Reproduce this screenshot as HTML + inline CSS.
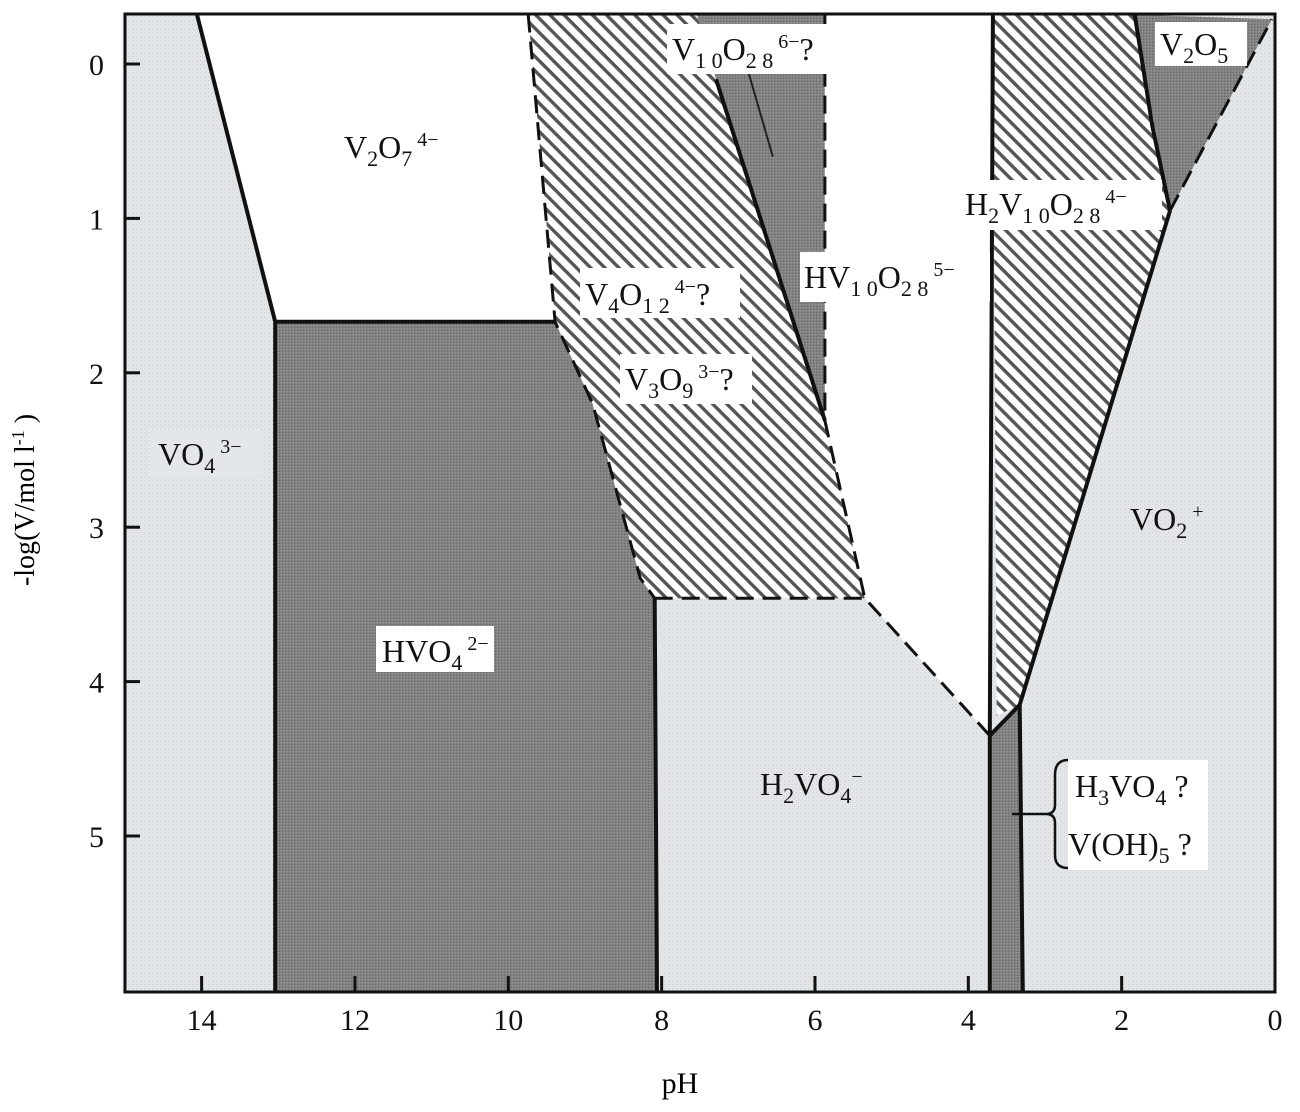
<!DOCTYPE html>
<html><head><meta charset="utf-8"><style>
html,body{margin:0;padding:0;background:#fff;}
svg{display:block;font-family:"Liberation Serif",serif;}
</style></head><body>
<svg id="chart" width="1300" height="1112" viewBox="0 0 1300 1112" xmlns="http://www.w3.org/2000/svg">
<defs>
<pattern id="hatch" patternUnits="userSpaceOnUse" width="10" height="10" patternTransform="rotate(45)">
<rect width="10" height="10" fill="#fff"/>
<rect x="0" y="0" width="10" height="3.4" fill="#555"/>
</pattern>
<pattern id="dots" patternUnits="userSpaceOnUse" width="4" height="4">
<rect width="4" height="4" fill="#e3e7ea"/>
<rect x="0" y="0" width="1" height="1" fill="#c8ccd0"/>
<rect x="2" y="2" width="1" height="1" fill="#cfd3d7"/>
</pattern>
<pattern id="darkdots" patternUnits="userSpaceOnUse" width="3" height="3">
<rect width="3" height="3" fill="#828282"/>
<rect x="0" y="0" width="1" height="1" fill="#686868"/>
<rect x="2" y="1" width="1" height="1" fill="#9a9a9a"/>
</pattern>
</defs>
<g id="regions"></g>
<g id="lines"></g>
<g id="axes"></g>
<g id="labels"></g>
</svg>
<script>
// axis ranges
const phMin = 0, phMax = 15.03;
const yMin = -0.32, yMax = 6.01;
const xTicks = [14, 12, 10, 8, 6, 4, 2, 0];
const yTicks = [0, 1, 2, 3, 4, 5];
// region polygons [pH, -logV]
const regionVO4 = [[15.03,-0.32],[14.06,-0.32],[13.04,1.67],[13.04,6.01],[15.03,6.01]];
const regionV2O7 = [[14.06,-0.32],[9.74,-0.32],[9.39,1.67],[13.04,1.67]];
const regionHVO4 = [[13.04,1.67],[9.39,1.67],[8.9,2.2],[8.28,3.33],[8.09,3.46],[8.06,6.01],[13.04,6.01]];
const regionV4O12 = [[9.74,-0.32],[7.54,-0.32],[7.29,0.10],[5.87,2.31],[5.35,3.46],[8.09,3.46],[8.28,3.33],[8.9,2.2],[9.39,1.67]];
const regionV10O28 = [[7.54,-0.32],[5.87,-0.32],[5.87,2.31],[7.29,0.10]];
const regionHV10O28 = [[5.87,-0.32],[3.68,-0.32],[3.72,4.35],[5.35,3.46],[5.87,2.31]];
const regionH2V10O28 = [[3.68,-0.32],[1.83,-0.32],[1.37,0.95],[3.33,4.15],[3.63,4.22]];
const regionV2O5 = [[1.83,-0.32],[0.04,-0.29],[1.37,0.95]];
const regionH3VO4 = [[3.72,4.35],[3.33,4.15],[3.29,6.01],[3.72,6.01]];
// boundary lines
const solidLines = [
 [[14.06,-0.32],[13.04,1.67],[13.04,6.01]],
 [[13.04,1.67],[9.39,1.67]],
 [[8.06,6.01],[8.09,3.46]],
 [[7.29,0.10],[5.87,2.31]],
 [[3.68,-0.32],[3.72,4.35],[3.72,6.01]],
 [[3.72,4.35],[3.33,4.15],[3.29,6.01]],
 [[3.33,4.15],[1.37,0.95]],
 [[1.83,-0.32],[1.6,0.4],[1.37,0.95]]
];
const dashedLines = [
 [[9.74,-0.32],[9.39,1.67],[8.9,2.2],[8.28,3.33],[8.09,3.46]],
 [[8.09,3.46],[5.35,3.46],[3.72,4.35]],
 [[5.87,-0.32],[5.87,2.31],[5.35,3.46]],
 [[1.37,0.95],[0.04,-0.29]]
];
const X = p => 1275 - p*76.67;
const Y = v => 64 + v*154.4;
const NS = "http://www.w3.org/2000/svg";
function mk(tag, attrs, parent){const e=document.createElementNS(NS,tag);for(const k in attrs)e.setAttribute(k,attrs[k]);parent.appendChild(e);return e;}
const pts = arr => arr.map(p=>X(p[0]).toFixed(1)+","+Y(p[1]).toFixed(1)).join(" ");
const R = document.getElementById("regions");
mk("rect",{x:125,y:14,width:1150,height:978,fill:"url(#dots)"},R);
const regs = [["vo4-region",regionVO4,"url(#dots)"],["v2o7-region",regionV2O7,"#fff"],["hvo4-region",regionHVO4,"url(#darkdots)"],
["v4o12-region",regionV4O12,"url(#hatch)"],["v10o28-region",regionV10O28,"url(#darkdots)"],["hv10o28-region",regionHV10O28,"#fff"],
["h2v10o28-region",regionH2V10O28,"url(#hatch)"],["v2o5-region",regionV2O5,"url(#darkdots)"],["h3vo4-region",regionH3VO4,"url(#darkdots)"]];
regs.forEach(r=>{const e=mk("polygon",{points:pts(r[1]),fill:r[2]},R);

});
const L = document.getElementById("lines");
solidLines.forEach(l=>{const e=mk("polyline",{points:pts(l),fill:"none",stroke:"#111","stroke-width":4,"stroke-linejoin":"round"},L);

});
dashedLines.forEach(l=>{const e=mk("polyline",{points:pts(l),fill:"none",stroke:"#111","stroke-width":3,"stroke-dasharray":"18,9"},L);

});
const sl = mk("line",{x1:X(6.87),y1:Y(0.05),x2:X(6.55),y2:Y(0.6),stroke:"#222","stroke-width":2},L);


const A = document.getElementById("axes");
const frame = mk("rect",{x:125,y:14,width:1150,height:978,fill:"none",stroke:"#111","stroke-width":3},A);


xTicks.forEach(t=>{const x=X(t);
const tk=mk("line",{x1:x,y1:992,x2:x,y2:976,stroke:"#111","stroke-width":3},A);


const tx=mk("text",{x:x,y:1030,"font-size":30,"text-anchor":"middle",fill:"#111"},A);tx.textContent=t;

});
yTicks.forEach(t=>{const y=Y(t);
const tk=mk("line",{x1:125,y1:y,x2:140,y2:y,stroke:"#111","stroke-width":3},A);


const tx=mk("text",{x:104,y:y+11,"font-size":30,"text-anchor":"end",fill:"#111"},A);tx.textContent=t;

});
</script>
<svg style="position:absolute;left:0;top:0" width="1300" height="1112">
<text x="680" y="1093" font-size="30" text-anchor="middle" font-family="Liberation Serif, serif">pH</text>
<text transform="translate(34,500) rotate(-90)" font-size="28" text-anchor="middle" font-family="Liberation Serif, serif">-log(V/mol l<tspan dy="-10" font-size="18">-1</tspan><tspan dy="10"> )</tspan></text>
<g font-family="Liberation Serif, serif" font-size="32" fill="#111">
<rect x="336" y="122" width="104" height="46" fill="#fff"/>
<text x="344" y="158">V<tspan font-size="22" dy="8">2</tspan><tspan dy="-8">O</tspan><tspan font-size="22" dy="8">7</tspan><tspan font-size="20" dy="-20"> 4−</tspan></text>
<rect x="150" y="430" width="112" height="46" fill="#e3e7ea"/>
<text x="158" y="465">VO<tspan font-size="22" dy="8">4</tspan><tspan font-size="20" dy="-20"> 3−</tspan></text>
<rect x="376" y="626" width="118" height="46" fill="#fff"/>
<text x="382" y="662">HVO<tspan font-size="22" dy="8">4</tspan><tspan font-size="20" dy="-20"> 2−</tspan></text>
<rect x="667" y="24" width="186" height="50" fill="#fff"/>
<text x="672" y="60">V<tspan font-size="22" dy="8">1 0</tspan><tspan dy="-8">O</tspan><tspan font-size="22" dy="8">2 8</tspan><tspan font-size="20" dy="-20"> 6−</tspan><tspan dy="12">?</tspan></text>
<rect x="580" y="268" width="160" height="50" fill="#fff"/>
<text x="585" y="305">V<tspan font-size="22" dy="8">4</tspan><tspan dy="-8">O</tspan><tspan font-size="22" dy="8">1 2</tspan><tspan font-size="20" dy="-20"> 4−</tspan><tspan dy="12">?</tspan></text>
<rect x="620" y="354" width="132" height="50" fill="#fff"/>
<text x="625" y="390">V<tspan font-size="22" dy="8">3</tspan><tspan dy="-8">O</tspan><tspan font-size="22" dy="8">9</tspan><tspan font-size="20" dy="-20"> 3−</tspan><tspan dy="12">?</tspan></text>
<rect x="800" y="252" width="190" height="50" fill="#fff"/>
<text x="804" y="288">HV<tspan font-size="22" dy="8">1 0</tspan><tspan dy="-8">O</tspan><tspan font-size="22" dy="8">2 8</tspan><tspan font-size="20" dy="-20"> 5−</tspan></text>
<rect x="962" y="180" width="200" height="50" fill="#fff"/>
<text x="965" y="215">H<tspan font-size="22" dy="8">2</tspan><tspan dy="-8">V</tspan><tspan font-size="22" dy="8">1 0</tspan><tspan dy="-8">O</tspan><tspan font-size="22" dy="8">2 8</tspan><tspan font-size="20" dy="-20"> 4−</tspan></text>
<rect x="1155" y="22" width="92" height="44" fill="#fff"/>
<text x="1160" y="55">V<tspan font-size="22" dy="8">2</tspan><tspan dy="-8">O</tspan><tspan font-size="22" dy="8">5</tspan></text>
<text x="1130" y="530">VO<tspan font-size="22" dy="8">2</tspan><tspan font-size="20" dy="-20"> +</tspan></text>
<text x="760" y="795">H<tspan font-size="22" dy="8">2</tspan><tspan dy="-8">VO</tspan><tspan font-size="22" dy="8">4</tspan><tspan font-size="20" dy="-20">−</tspan></text>
<rect x="1068" y="760" width="140" height="110" fill="#fff"/>
<text x="1075" y="797">H<tspan font-size="22" dy="8">3</tspan><tspan dy="-8">VO</tspan><tspan font-size="22" dy="8">4</tspan><tspan dy="-8"> ?</tspan></text>
<text x="1068" y="855">V(OH)<tspan font-size="22" dy="8">5</tspan><tspan dy="-8"> ?</tspan></text>
<path d="M1068,760 Q1055,760 1055,775 L1055,805 Q1055,814 1046,814 Q1055,814 1055,823 L1055,855 Q1055,868 1068,868" fill="none" stroke="#111" stroke-width="2.5"/>
<line x1="1012" y1="814" x2="1046" y2="814" stroke="#111" stroke-width="2.5"/>
</g>
</svg>
</body></html>
